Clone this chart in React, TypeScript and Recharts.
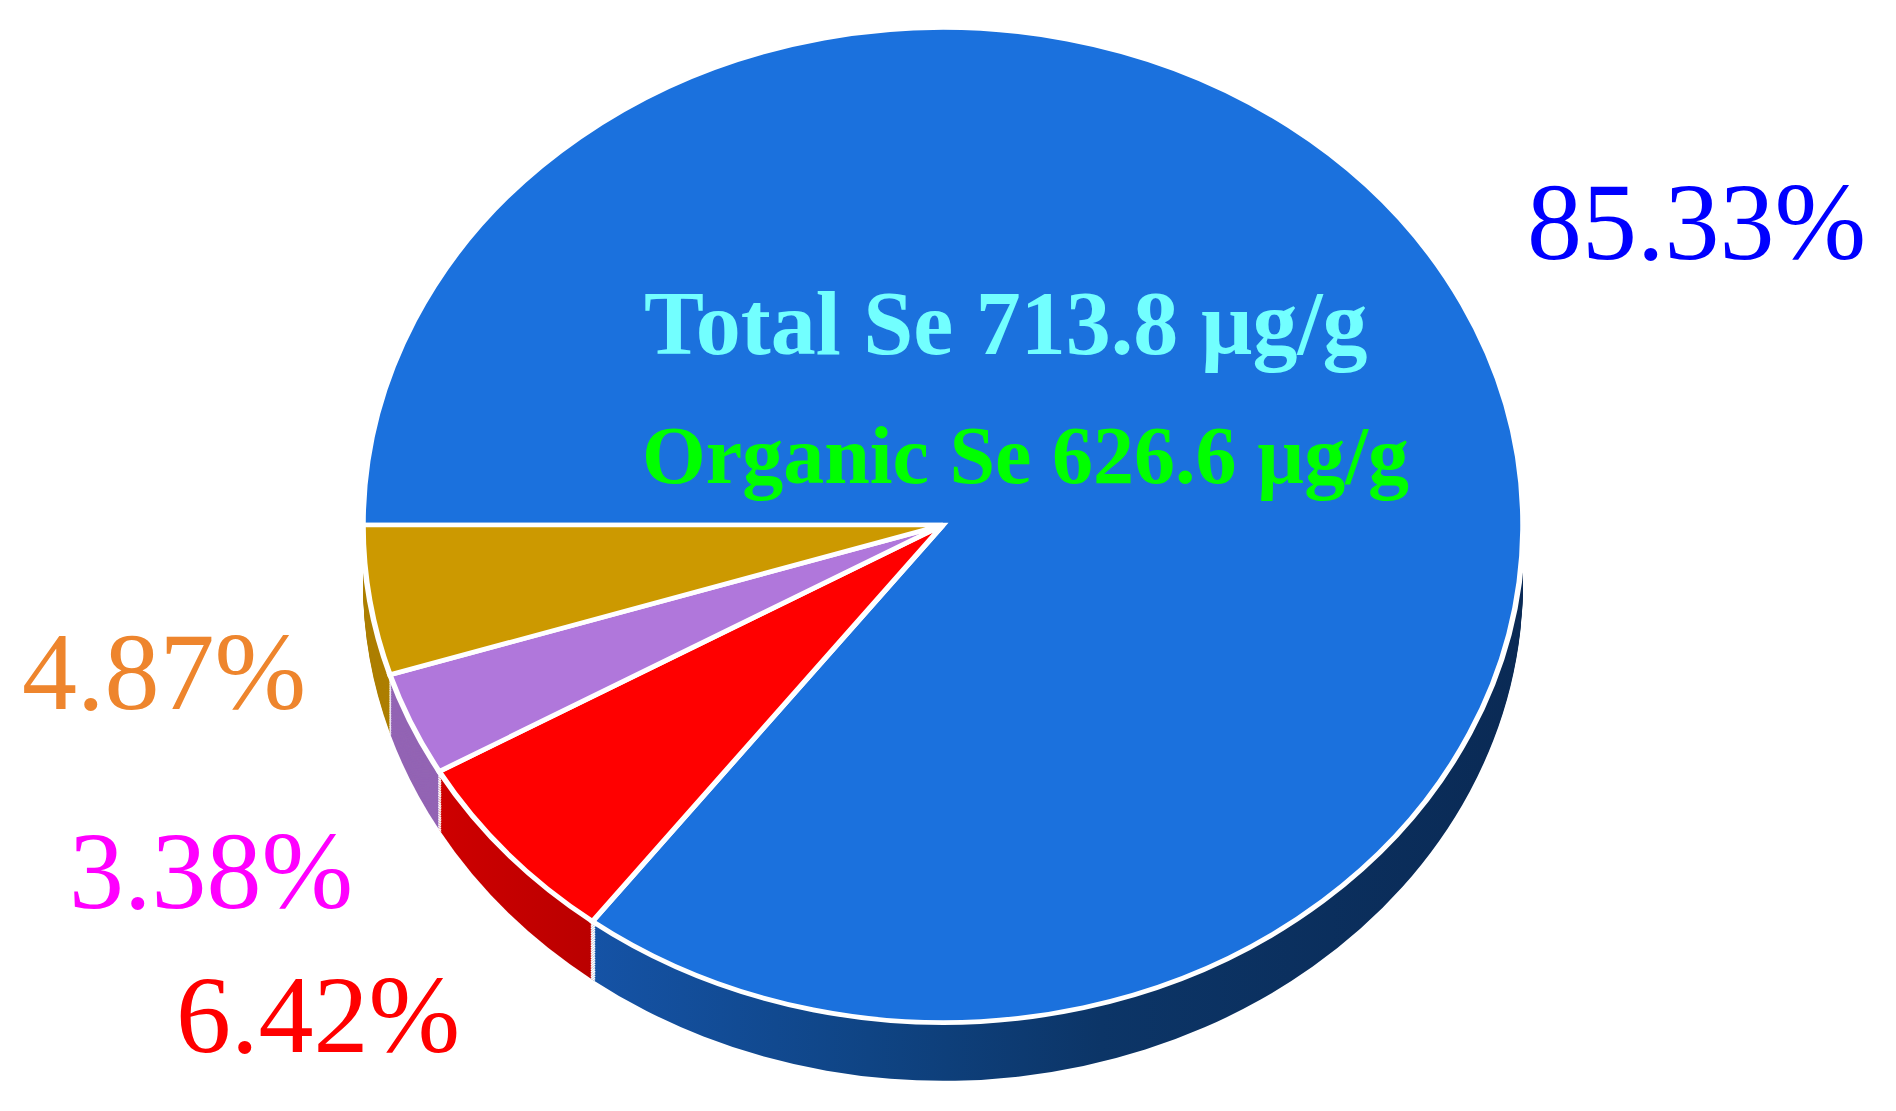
import React from 'react';
import { PieChart, Pie, Cell } from 'recharts';

// Se fractions, in drawing order (clockwise from 9 o'clock)
const categories = ['Fraction 1', 'Fraction 2', 'Fraction 3', 'Fraction 4'];
const values = [85.33, 6.42, 3.38, 4.87];
const topColors = ['#1B71DD', '#FF0000', '#B077DB', '#CC9900'];
const sideColors = ['url(#blueSide)', 'url(#redSide)', '#9364B4', '#AD7F00'];
const labelColors = ['#0000FF', '#FF0000', '#FF00FF', '#EE852D'];
const labelPos = [
  [1527, 259],
  [176, 1052],
  [69, 908],
  [22, 709],
];

const totalSe = 713.8;
const organicSe = 626.6;

const W = 1896;
const H = 1111;
const CX = 943;
const CY = 525;
const RX = 580;
const RY = 497.5;
const DEPTH = 58;
const K = RY / RX; // vertical squash of the tilted disc

const preH = H / K;
const cyPre = CY / K;
const depthPre = DEPTH / K;
const STEP = 2;

const offsets: number[] = [];
for (let d = Math.round(depthPre); d > 0; d -= STEP) offsets.push(d);

const data = categories.map((name, i) => ({ name, value: values[i] }));
const total = values.reduce((a, b) => a + b, 0);
const arcLen = (v: number) => RX * (v / total) * 2 * Math.PI;

const serif = '"Liberation Serif", "Times New Roman", serif';

export default function App() {
  return (
    <div
      style={{
        position: 'absolute',
        left: 0,
        top: 0,
        width: W,
        height: H,
        overflow: 'hidden',
        background: '#FFFFFF',
      }}
    >
      <svg width={0} height={0} style={{ position: 'absolute' }}>
        <defs>
          <linearGradient id="blueSide" gradientUnits="userSpaceOnUse" x1={590} y1={0} x2={1520} y2={0}>
            <stop offset="0" stopColor="#1553A6" />
            <stop offset="0.3" stopColor="#0F4484" />
            <stop offset="0.55" stopColor="#0C3567" />
            <stop offset="1" stopColor="#0A2A55" />
          </linearGradient>
          <linearGradient id="redSide" gradientUnits="userSpaceOnUse" x1={440} y1={0} x2={600} y2={0}>
            <stop offset="0" stopColor="#CE0000" />
            <stop offset="1" stopColor="#B90000" />
          </linearGradient>
        </defs>
      </svg>

      <div
        style={{
          position: 'absolute',
          left: 0,
          top: 0,
          width: W,
          height: preH,
          transform: `scaleY(${K})`,
          transformOrigin: '0 0',
        }}
      >
        <PieChart width={W} height={preH} margin={{ top: 0, right: 0, bottom: 0, left: 0 }}>
          {offsets.map((d) => (
            <Pie
              key={`side-${d}`}
              data={data}
              dataKey="value"
              nameKey="name"
              cx={CX}
              cy={cyPre + d}
              outerRadius={RX}
              startAngle={180}
              endAngle={-180}
              stroke="#FFFFFF"
              strokeWidth={5}
              isAnimationActive={false}
            >
              {data.map((e, i) => (
                <Cell
                  key={i}
                  fill={sideColors[i]}
                  strokeDasharray={`0 ${arcLen(e.value) + 0.5} ${2 * RX} 0`}
                />
              ))}
            </Pie>
          ))}
          <Pie
            key="top"
            data={data}
            dataKey="value"
            nameKey="name"
            cx={CX}
            cy={cyPre}
            outerRadius={RX}
            startAngle={180}
            endAngle={-180}
            stroke="#FFFFFF"
            strokeWidth={5.5}
            isAnimationActive={false}
          >
            {data.map((e, i) => (
              <Cell key={i} fill={topColors[i]} />
            ))}
          </Pie>
        </PieChart>
      </div>

      <svg
        width={W}
        height={H}
        style={{ position: 'absolute', left: 0, top: 0, pointerEvents: 'none' }}
      >
        {data.map((e, i) => (
          <text
            key={e.name}
            x={labelPos[i][0]}
            y={labelPos[i][1]}
            fontFamily={serif}
            fontSize={110}
            fill={labelColors[i]}
          >
            {`${e.value.toFixed(2)}%`}
          </text>
        ))}
        <text x={644} y={354} fontFamily={serif} fontWeight="bold" fontSize={90} fill="#72FFFF">
          {`Total Se ${totalSe} µg/g`}
        </text>
        <text x={642} y={483} fontFamily={serif} fontWeight="bold" fontSize={82} fill="#00FF00">
          {`Organic Se ${organicSe} µg/g`}
        </text>
      </svg>
    </div>
  );
}
